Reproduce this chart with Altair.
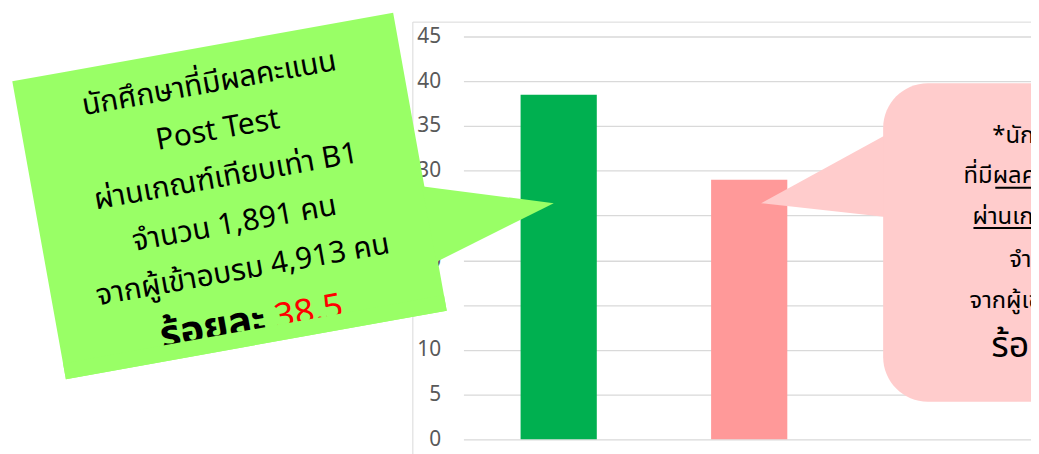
import math
import altair as alt
import pandas as pd

# ---------------- data ----------------
categories = ["Post Test", "Pre Test"]
values = [38.5, 29.0]
x_domain = ["Post Test", "Pre Test", "(hidden)"]   # third slot sits under the pink callout
bar_colors = ["#00B050", "#FF9999"]
y_ticks = [0, 5, 10, 15, 20, 25, 30, 35, 40, 45]

green_lines = [
    "นักศึกษาที่มีผลคะแนน",
    "Post Test",
    "ผ่านเกณฑ์เทียบเท่า B1",
    "จำนวน 1,891 คน",
    "จากผู้เข้าอบรม 4,913 คน",
]
green_last_label = "ร้อยละ"
green_last_value = "38.5"

pink_lines = [
    "*นักศึกษาที่มีผลคะแนน",
    "ที่มีผลคะแนน Pre Test",
    "ผ่านเกณฑ์เทียบเท่า B1",
    "จำนวน 1,426 คน",
    "จากผู้เข้าอบรม 4,913 คน",
    "ร้อยละ 29.0",
]

# ---------------- layout (pixels) ----------------
OX, OY = 467, 35          # plot origin on the page
PLOT_W, PLOT_H = 572, 406
TOTAL_H = 446
FONT = "Noto Sans Thai, Noto Sans, Tahoma, sans-serif"

# green callout: rotated box
G_C = (231.25, 195.75)
G_W, G_H = 390.0, 305.0
G_ANG = -10.2
_c, _s = math.cos(math.radians(G_ANG)), math.sin(math.radians(G_ANG))


def g_abs(u, v):
    return (G_C[0] + u * _c - v * _s, G_C[1] + u * _s + v * _c)


def convex_rows(poly, name):
    xs = sorted(set(p[0] for p in poly))
    rows = []
    n = len(poly)
    for x in xs:
        ys = []
        for i in range(n):
            (x1, y1), (x2, y2) = poly[i], poly[(i + 1) % n]
            if min(x1, x2) - 1e-4 <= x <= max(x1, x2) + 1e-4:
                if abs(x2 - x1) < 1e-6:
                    ys += [y1, y2]
                else:
                    t = (x - x1) / (x2 - x1)
                    ys.append(y1 + t * (y2 - y1))
        rows.append({"shape": name, "x": x - OX, "ylo": min(ys) - OY, "yhi": max(ys) - OY})
    return rows


g_box = [g_abs(-G_W / 2, -G_H / 2), g_abs(G_W / 2, -G_H / 2),
         g_abs(G_W / 2, G_H / 2), g_abs(-G_W / 2, G_H / 2)]
g_pointer = [(425, 186), (558, 203), (440, 262)]
g_clip_v = 136.5
g_clip = [g_abs(-G_W / 2, g_clip_v), g_abs(G_W / 2, g_clip_v),
          g_abs(G_W / 2, G_H / 2), g_abs(-G_W / 2, G_H / 2)]

green_shapes = pd.DataFrame(convex_rows(g_box, "box") + convex_rows(g_pointer, "ptr"))
green_clip = pd.DataFrame(convex_rows(g_clip, "clip"))

g_line_v = [-115, -67.5, -19.5, 28.5, 76]
gl = []
for t, v in zip(green_lines, g_line_v):
    x, y = g_abs(0, v)
    gl.append({"t": t, "x": x - OX, "y": y - OY})
green_text = pd.DataFrame(gl)
lx, ly = g_abs(-40, 140)
vx, vy = g_abs(58, 140)
green_lab = pd.DataFrame([{"t": green_last_label, "x": lx - OX, "y": ly - OY}])
green_val = pd.DataFrame([{"t": green_last_value, "x": vx - OX, "y": vy - OY}])

# pink callout
pink_rect = pd.DataFrame([{"x": 890 - OX, "x2": 1220 - OX, "y": 82 - OY, "y2": 403 - OY}])
pink_ptr = pd.DataFrame(convex_rows([(767, 203), (893, 134), (893, 217)], "ptr"))
pink_pos = [(1000, 135), (971, 176), (980, 217), (1017, 260), (977, 302), (999, 347)]
pink_text = pd.DataFrame([{"t": t, "x": p[0] - OX, "y": p[1] - OY}
                          for t, p in zip(pink_lines[:5], pink_pos[:5])])
pink_big = pd.DataFrame([{"t": pink_lines[5], "x": pink_pos[5][0] - OX, "y": pink_pos[5][1] - OY}])
underlines = pd.DataFrame([
    {"x": 1003 - OX, "x2": 1100 - OX, "y": 187.5 - OY},
    {"x": 981 - OX, "x2": 1100 - OX, "y": 228 - OY},
])

frame = pd.DataFrame([{"x": 416 - OX, "x2": 1100 - OX, "y": 20.5 - OY, "y2": 520 - OY}])

bars_df = pd.DataFrame({"cat": categories, "val": values})

# ---------------- layers ----------------
X0 = lambda f: alt.X(f, type="quantitative", scale=None, axis=None)
Y0 = lambda f: alt.Y(f, type="quantitative", scale=None, axis=None, stack=None)

frame_l = alt.Chart(frame).mark_rect(fillOpacity=0, stroke="#D9D9D9", strokeWidth=1).encode(
    x=X0("x"), x2="x2", y=Y0("y"), y2="y2")

bars = alt.Chart(bars_df).mark_bar().encode(
    x=alt.X("cat:N", scale=alt.Scale(domain=x_domain, range=[0, 576],
                                     paddingInner=0.6, paddingOuter=0.3), axis=None),
    y=alt.Y("val:Q", scale=alt.Scale(domain=[0, 45], nice=False),
            axis=alt.Axis(values=y_ticks, grid=True, gridColor="#D9D9D9", gridWidth=1.3,
                          domain=False, ticks=False, tickSize=0, labelPadding=23,
                          labelFont="Noto Sans", labelFontSize=21, labelColor="#595959",
                          title=None)),
    color=alt.Color("cat:N", scale=alt.Scale(domain=categories, range=bar_colors), legend=None),
)

pink_ptr_l = alt.Chart(pink_ptr).mark_area(color="#FFCCCC").encode(
    x=X0("x"), y=Y0("ylo"), y2="yhi", detail="shape:N")
pink_rect_l = alt.Chart(pink_rect).mark_rect(color="#FFCCCC", cornerRadius=45).encode(
    x=X0("x"), x2="x2", y=Y0("y"), y2="y2")
pink_text_l = alt.Chart(pink_text).mark_text(
    align="left", baseline="middle", font=FONT, fontSize=24, color="#000000").encode(
    x=X0("x"), y=Y0("y"), text="t:N")
pink_big_l = alt.Chart(pink_big).mark_text(
    align="left", baseline="middle", font=FONT, fontSize=36, color="#000000").encode(
    x=X0("x"), y=Y0("y"), text="t:N")
underline_l = alt.Chart(underlines).mark_rule(color="#000000", strokeWidth=2).encode(
    x=X0("x"), x2="x2", y=Y0("y"))

green_l = alt.Chart(green_shapes).mark_area(color="#99FF66").encode(
    x=X0("x"), y=Y0("ylo"), y2="yhi", detail="shape:N")
green_text_l = alt.Chart(green_text).mark_text(
    align="center", baseline="middle", font=FONT, fontSize=30, color="#000000",
    angle=360 + G_ANG).encode(x=X0("x"), y=Y0("y"), text="t:N")
green_lab_l = alt.Chart(green_lab).mark_text(
    align="center", baseline="alphabetic", font=FONT, fontSize=40, fontWeight="bold",
    color="#000000", angle=360 + G_ANG).encode(x=X0("x"), y=Y0("y"), text="t:N")
green_val_l = alt.Chart(green_val).mark_text(
    align="center", baseline="alphabetic", font=FONT, fontSize=35,
    color="#FF0000", angle=360 + G_ANG).encode(x=X0("x"), y=Y0("y"), text="t:N")
green_clip_l = alt.Chart(green_clip).mark_area(color="#99FF66").encode(
    x=X0("x"), y=Y0("ylo"), y2="yhi", detail="shape:N")

chart = alt.layer(
    frame_l, bars, pink_ptr_l, pink_rect_l, pink_text_l, pink_big_l, underline_l,
    green_l, green_text_l, green_lab_l, green_val_l, green_clip_l,
).properties(
    width=PLOT_W, height=PLOT_H,
    autosize=alt.AutoSizeParams(type="none"),
    padding={"left": OX - 8, "top": OY - 8, "right": 0, "bottom": TOTAL_H - (OY - 8) - PLOT_H},
    background="#FFFFFF",
).configure_view(strokeWidth=0)

chart.save("out.html", embed_options={"renderer": "svg", "actions": False})
